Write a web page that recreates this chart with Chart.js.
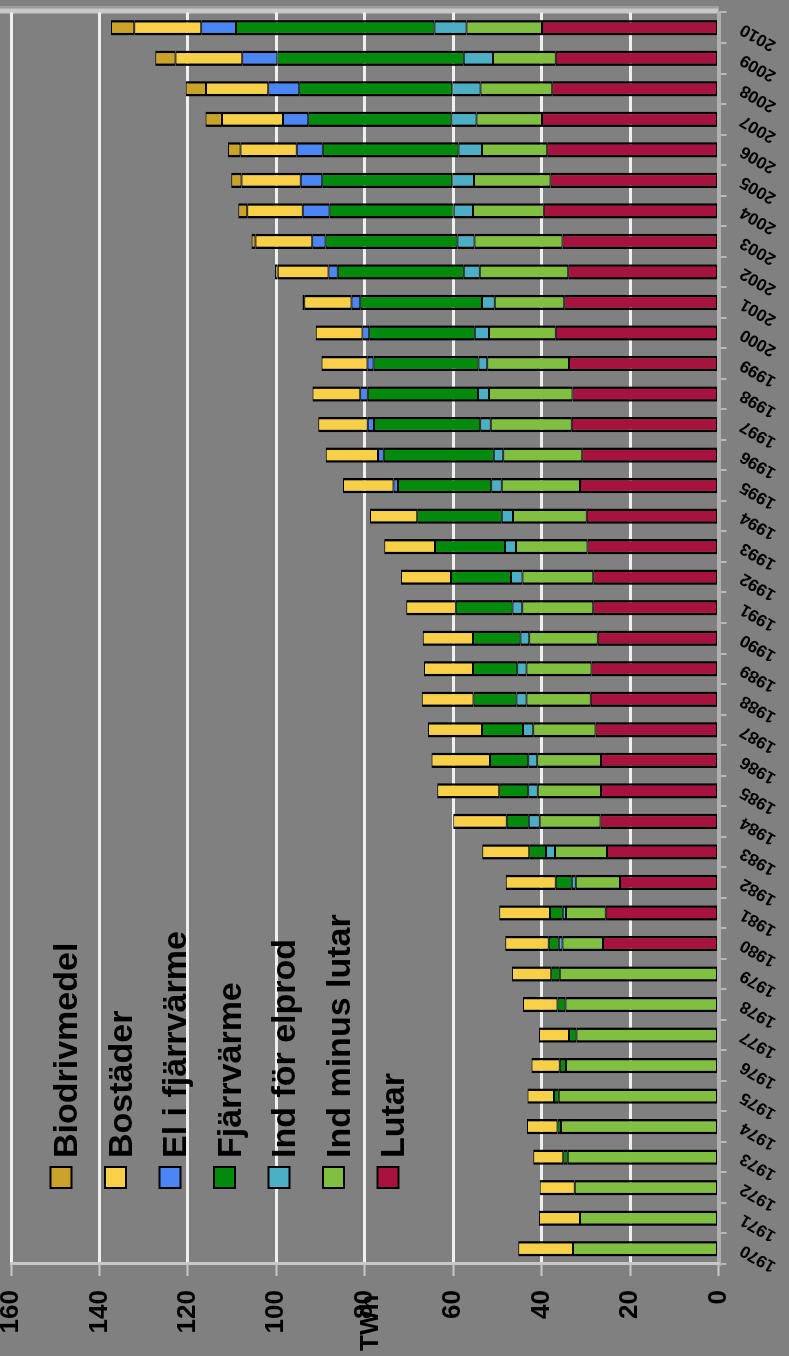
<!DOCTYPE html>
<html><head><meta charset="utf-8">
<script src="https://cdn.jsdelivr.net/npm/chart.js@4/dist/chart.umd.min.js"></script>
<style>
html,body{margin:0;padding:0;background:#808080;overflow:hidden;width:789px;height:1356px;}
#wrap{position:absolute;left:0;top:0;width:1356px;height:789px;transform-origin:0 0;transform:translate(0px,1356px) rotate(-90deg);}
canvas{display:block;}
</style></head><body>
<div id="wrap"><canvas id="c" width="1356" height="789"></canvas></div>
<script>
const years = ['1970','1971','1972','1973','1974','1975','1976','1977','1978','1979',
  '1980','1981','1982','1983','1984','1985','1986','1987','1988','1989',
  '1990','1991','1992','1993','1994','1995','1996','1997','1998','1999',
  '2000','2001','2002','2003','2004','2005','2006','2007','2008','2009','2010'];

const lutar = [null,null,null,null,null,null,null,null,null,null,
  26.1,25.5,22.3,25.2,26.7,26.6,26.6,27.8,28.9,28.7,
  27.3,28.3,28.3,29.6,29.8,31.3,30.8,33.2,33.0,33.8,
  36.8,34.9,34.0,35.3,39.5,38.0,38.7,39.9,37.6,36.8,39.9];

const indMinusLutar = [32.9,31.3,32.5,34.1,35.6,36.1,34.5,32.1,34.6,35.9,
  9.2,9.0,10.0,11.8,13.7,14.3,14.4,14.1,14.5,14.7,
  15.5,16.1,16.0,16.2,16.7,17.7,17.9,18.3,18.9,18.5,
  15.1,15.7,20.0,19.9,16.0,17.3,14.8,14.8,16.2,14.2,17.1];

const indElprod = [null,null,null,null,null,null,null,null,null,null,
  0.8,0.7,0.9,2.0,2.5,2.1,2.0,2.3,2.3,2.1,
  2.0,2.2,2.6,2.5,2.5,2.4,2.1,2.4,2.5,2.0,
  3.2,2.9,3.6,3.8,4.4,4.9,5.3,5.7,6.4,6.6,7.2];

const fjarrvarme = [null,null,null,1.0,0.8,1.1,1.4,1.7,1.8,1.9,
  2.3,2.9,3.6,3.8,5.0,6.6,8.7,9.3,9.7,10.0,
  10.7,12.8,13.6,15.8,19.1,21.1,24.9,24.0,24.9,23.7,
  23.9,27.5,28.5,29.9,28.1,29.4,30.7,32.4,34.6,42.2,44.9];

const elFjarrvarme = [null,null,null,null,null,null,null,null,null,null,
  null,null,null,null,null,null,null,null,null,null,
  null,null,null,null,null,1.0,1.3,1.4,1.7,1.4,
  1.5,2.0,2.1,3.0,6.0,4.9,5.9,5.7,7.0,7.9,7.9];

const bostader = [12.4,9.3,7.9,6.8,6.9,6.0,6.4,6.8,7.8,8.9,
  9.8,11.5,11.3,10.6,12.1,14.0,13.2,12.2,11.7,11.1,
  11.4,11.2,11.3,11.5,10.7,11.4,11.8,11.2,10.8,10.4,
  10.6,10.7,11.5,12.8,12.6,13.4,12.7,13.8,14.1,15.1,15.1];

const biodrivmedel = [null,null,null,null,null,null,null,null,null,null,
  null,null,null,null,null,null,null,null,null,null,
  null,null,null,null,null,null,null,null,null,null,
  null,0.4,0.6,0.9,2.0,2.3,2.8,3.7,4.6,4.6,5.3];

const yTicksMax = 160;
const yTickStep = 20;
const axisTitle = 'TWh';

const FONT = '"Liberation Sans", Arial, sans-serif';

function ds(label, data, color){
  return {label, data, backgroundColor: color, borderColor: '#000',
    borderWidth: {left: 2.5, right: 2.5, top: 1, bottom: 1}, borderSkipped: false,
    barPercentage: 0.5, categoryPercentage: 1.0};
}

const bgPlugin = {
  id: 'bg',
  beforeDraw(chart){
    const ctx = chart.ctx;
    ctx.save();
    ctx.fillStyle = '#808080';
    ctx.fillRect(0,0,chart.width,chart.height);
    const a = chart.chartArea;
    ctx.fillStyle = '#c8c8c8';
    ctx.fillRect(a.right - 1, 0, 7, a.bottom);
    ctx.fillStyle = '#9a9a9a';
    ctx.fillRect(a.right + 4, 0, 2, a.bottom);
    ctx.restore();
  }
};

const overlayPlugin = {
  id: 'overlay',
  afterDraw(chart){
    const ctx = chart.ctx;
    const y = chart.scales.y;
    ctx.save();
    ctx.fillStyle = '#000';
    ctx.font = 'bold 26px ' + FONT;
    ctx.textAlign = 'left';
    ctx.textBaseline = 'alphabetic';
    ctx.fillText(axisTitle, 5, y.getPixelForValue(80) + 13);
    const list = chart.data.datasets.slice().reverse();
    ctx.font = 'bold 34px ' + FONT;
    list.forEach((d, i) => {
      const yc = 61 + i * 54.5;
      ctx.fillStyle = d.backgroundColor;
      ctx.fillRect(168, yc - 10.5, 21, 21);
      ctx.lineWidth = 2;
      ctx.strokeStyle = '#000';
      ctx.strokeRect(168, yc - 10.5, 21, 21);
      ctx.fillStyle = '#000';
      ctx.fillText(d.label, 198, yc + 16);
    });
    ctx.restore();
  }
};

new Chart(document.getElementById('c'), {
  type: 'bar',
  data: {
    labels: years,
    datasets: [
      ds('Lutar', lutar, '#A8123E'),
      ds('Ind minus lutar', indMinusLutar, '#80BF40'),
      ds('Ind för elprod', indElprod, '#4BAFC6'),
      ds('Fjärrvärme', fjarrvarme, '#008C0A'),
      ds('El i fjärrvärme', elFjarrvarme, '#4A86F5'),
      ds('Bostäder', bostader, '#F7D047'),
      ds('Biodrivmedel', biodrivmedel, '#C9A227')
    ]
  },
  options: {
    responsive: false,
    animation: false,
    devicePixelRatio: 1,
    layout: {padding: {left: 0, right: 6, top: 11, bottom: 0}},
    plugins: {legend: {display: false}, tooltip: {enabled: false}},
    scales: {
      x: {
        stacked: true,
        ticks: {color: '#000', font: {family: FONT, size: 17, weight: 'bold'},
          minRotation: 60, maxRotation: 60, autoSkip: false, padding: 10},
        grid: {display: true, drawOnChartArea: false, tickLength: 8, color: '#b8b8b8', lineWidth: 2},
        border: {display: true, color: '#b0b0b0', width: 4},
        afterFit(s){ s.height = 70.5; }
      },
      y: {
        stacked: true, min: 0, max: yTicksMax,
        ticks: {stepSize: yTickStep, color: '#000', padding: 14,
          font: {family: FONT, size: 26, weight: 'bold'}},
        grid: {color: '#f0f0f0', lineWidth: 3, tickLength: 12, tickColor: '#c8c8c8', tickWidth: 2},
        border: {display: true, color: '#c8c8c8', width: 3},
        afterFit(s){ s.width = 92; s.paddingTop = 0; s.paddingBottom = 0; }
      }
    }
  },
  plugins: [bgPlugin, overlayPlugin]
});
</script>
</body></html>
